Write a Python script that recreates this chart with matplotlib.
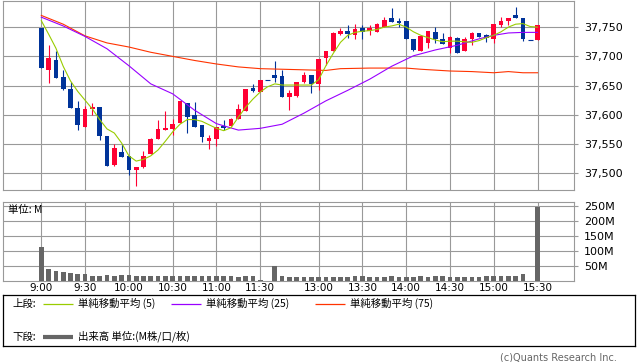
import matplotlib
matplotlib.use("Agg")
import matplotlib.pyplot as plt
import numpy as np

# 5-minute bars: morning session, one break slot, afternoon session
morning = [f"{h}:{m:02d}" for h in (9, 10, 11) for m in range(0, 60, 5)][:31]
afternoon = [f"{h}:{m:02d}" for h in (12, 13, 14, 15) for m in range(0, 60, 5)][6:43]
bar_times = morning + [""] + afternoon

opens = [37748, 37677, 37694, 37664, 37644, 37612, 37580, 37610, 37613, 37564,
         37515, 37536, 37530, 37506, 37511, 37533, 37558, 37574, 37576, 37586,
         37620, 37599, 37582, 37556, 37558, 37581, 37581, 37593, 37607, 37646,
         37639, 37659, 37669, 37666, 37631, 37633, 37657, 37669, 37653, 37697,
         37709, 37738, 37743, 37736, 37748, 37744, 37742, 37751, 37765, 37760,
         37760, 37729, 37710, 37723, 37741, 37729, 37714, 37732, 37709, 37729,
         37740, 37737, 37729, 37753, 37760, 37770, 37766, 37728, 37728]
highs = [37748, 37719, 37709, 37676, 37656, 37623, 37616, 37620, 37614, 37564,
         37550, 37550, 37530, 37511, 37538, 37561, 37591, 37607, 37593, 37624,
         37620, 37622, 37582, 37565, 37580, 37591, 37595, 37618, 37644, 37652,
         37659, 37659, 37692, 37676, 37642, 37657, 37674, 37669, 37696, 37710,
         37741, 37748, 37753, 37755, 37754, 37753, 37757, 37767, 37782, 37765,
         37761, 37729, 37735, 37743, 37750, 37740, 37735, 37733, 37733, 37741,
         37740, 37739, 37755, 37767, 37766, 37785, 37766, 37728, 37753]
lows = [37680, 37654, 37663, 37642, 37612, 37574, 37580, 37599, 37557, 37512,
        37513, 37528, 37498, 37479, 37510, 37533, 37558, 37574, 37565, 37586,
        37569, 37579, 37554, 37541, 37547, 37574, 37581, 37593, 37607, 37639,
        37639, 37659, 37656, 37631, 37608, 37631, 37655, 37637, 37643, 37685,
        37709, 37736, 37731, 37730, 37730, 37736, 37742, 37751, 37758, 37751,
        37730, 37709, 37710, 37715, 37723, 37722, 37705, 37706, 37709, 37720,
        37733, 37724, 37723, 37750, 37753, 37765, 37727, 37728, 37728]
closes = [37680, 37697, 37663, 37644, 37612, 37582, 37610, 37614, 37564, 37513,
          37544, 37528, 37506, 37511, 37530, 37559, 37576, 37578, 37584, 37624,
          37597, 37579, 37562, 37560, 37580, 37578, 37593, 37610, 37644, 37641,
          37659, 37659, 37663, 37631, 37637, 37657, 37669, 37652, 37696, 37710,
          37740, 37743, 37738, 37746, 37742, 37748, 37755, 37763, 37758, 37757,
          37730, 37711, 37734, 37743, 37729, 37722, 37733, 37706, 37730, 37740,
          37733, 37731, 37755, 37761, 37766, 37765, 37729, 37728, 37753]
volume_m = [113, 40, 33, 30, 27, 23, 23, 16, 16, 19,
            16, 19, 19, 16, 16, 14, 16, 14, 16, 14,
            14, 16, 14, 14, 14, 14, 14, 12, 14, 14,
            2, 0, 50, 16, 13, 13, 13, 13, 13, 12,
            13, 13, 12, 16, 14, 12, 12, 12, 14, 13,
            12, 13, 14, 12, 14, 14, 12, 13, 12, 12,
            13, 14, 16, 16, 16, 16, 22, 0, 246]

ma5 = [37761, 37738, 37714, 37683, 37658, 37640, 37625, 37610, 37592, 37576,
       37569, 37552, 37530, 37521, 37524, 37530, 37540, 37555, 37571, 37584,
       37592, 37592, 37589, 37583, 37577, 37573, 37578, 37596, 37613, 37627,
       37639, 37648, 37653, 37651, 37651, 37651, 37651, 37651, 37660, 37684,
       37705, 37724, 37736, 37741, 37743, 37744, 37746, 37750, 37752, 37755,
       37750, 37742, 37736, 37732, 37728, 37725, 37726, 37726, 37725, 37724,
       37727, 37732, 37736, 37742, 37750, 37755, 37756, 37751, 37750]
ma25_at = [0, 3, 6, 9, 12, 15, 18, 21, 24, 27, 30, 33, 36, 39, 42, 45, 48, 51,
           54, 57, 60, 62, 64, 66, 68]
ma25 = [37767, 37752, 37734, 37713, 37684, 37653, 37636, 37608, 37585, 37574,
        37577, 37584, 37603, 37624, 37642, 37661, 37683, 37701, 37711, 37719,
        37730, 37736, 37740, 37741, 37741]
ma75_at = [0, 3, 6, 9, 12, 15, 18, 21, 24, 27, 30, 33, 36, 39, 41, 45, 50, 52,
           56, 59, 62, 64, 66, 68]
ma75 = [37770, 37755, 37735, 37723, 37716, 37707, 37700, 37693, 37687, 37682,
        37679, 37678, 37677, 37676, 37679, 37680, 37680, 37678, 37675, 37674,
        37672, 37674, 37672, 37672]

tick_labels = ["9:00", "9:30", "10:00", "10:30", "11:00", "11:30",
               "13:00", "13:30", "14:00", "14:30", "15:00", "15:30"]
price_ticks = [37500, 37550, 37600, 37650, 37700, 37750]
vol_ticks = [50, 100, 150, 200, 250]

RED, BLUE = "#ff0033", "#003399"
GRID = "#999999"
JP = ["Noto Sans CJK JP", "DejaVu Sans"]

W, H = 638, 362
fig = plt.figure(figsize=(W / 100, H / 100), dpi=100)


def px_axes(x0, y0, x1, y1):
    return fig.add_axes([x0 / W, 1 - y1 / H, (x1 - x0) / W, (y1 - y0) / H])


x = np.arange(len(bar_times))
tick_pos = [bar_times.index(t) for t in tick_labels]
xlim = (-5.21, 73.0)


def style(ax):
    for s in ax.spines.values():
        s.set_color(GRID)
        s.set_linewidth(0.8)
    ax.grid(color=GRID, lw=0.8)
    ax.set_axisbelow(True)
    ax.yaxis.tick_right()
    ax.set_xticks(tick_pos)
    ax.set_xlim(*xlim)
    ax.tick_params(axis="y", length=3, width=0.8, color=GRID, pad=4,
                   labelsize=8)
    ax.tick_params(axis="x", length=0)


# --- price panel
ax = px_axes(3.3, 0.5, 574, 190)
style(ax)
o, h, l, c = (np.array(v, float) for v in (opens, highs, lows, closes))
cols = np.where(c > o, RED, BLUE)
ax.vlines(x, l, h, colors=cols, lw=0.8, zorder=3)
flat = c == o
lo = np.minimum(o, c)
ax.bar(x[~flat], np.abs(c - o)[~flat], bottom=lo[~flat], width=0.64,
       color=cols[~flat], lw=0, zorder=4)
ax.hlines(c[flat], x[flat] - 0.32, x[flat] + 0.32, colors=cols[flat],
          lw=0.8, zorder=4)
ax.plot(ma75_at, ma75, color="#ff3300", lw=0.8, zorder=5)
ax.plot(ma25_at, ma25, color="#9900ff", lw=0.8, zorder=5)
ax.plot(x, ma5, color="#99cc00", lw=0.8, zorder=5)
ax.set_ylim(37471.6, 37795.5)
ax.set_yticks(price_ticks)
ax.set_yticklabels([f"{p:,}" for p in price_ticks])
ax.set_xticklabels([])

# --- volume panel
av = px_axes(3.3, 201.7, 574, 280.7)
style(av)
av.bar(x, volume_m, width=0.64, color="#666666", lw=0, zorder=3)
av.set_ylim(0, 263.3)
av.set_yticks(vol_ticks)
av.set_yticklabels([f"{v}M" for v in vol_ticks])
av.set_xticklabels(tick_labels, fontsize=7.5)
av.tick_params(axis="x", pad=2)
fig.text(8 / W, 1 - 209.5 / H, "単位: M", fontsize=7.5, family=JP,
         va="center")

# --- legend box
lg = px_axes(3, 295, 635, 345.7)
lg.set_xlim(3, 635)
lg.set_ylim(345.7, 295)
lg.set_xticks([])
lg.set_yticks([])
for s in lg.spines.values():
    s.set_color("black")
    s.set_linewidth(0.9)
lg_rows = [
    (12, 303.5, "上段:", None),
    (43, 303.5, "単純移動平均 (5)", "#99cc00"),
    (171, 303.5, "単純移動平均 (25)", "#9900ff"),
    (315, 303.5, "単純移動平均 (75)", "#ff3300"),
    (12, 336.5, "下段:", None),
    (43, 336.5, "出来高 単位:(M株/口/枚)", "#666666"),
]
for lx, ly, txt, col in lg_rows:
    if col is None:
        lg.text(lx, ly, txt, fontsize=7.5, family=JP, va="center")
        continue
    lw = 3 if col == "#666666" else 0.9
    lg.plot([lx, lx + 30], [ly, ly], color=col, lw=lw, solid_capstyle="butt")
    lg.text(lx + 35, ly, txt, fontsize=7.5, family=JP, va="center")

fig.text(617 / W, 1 - 357.7 / H, "(c)Quants Research Inc.", fontsize=7,
         color="#666666", ha="right", va="center")

fig.savefig("out.png", dpi=100)
